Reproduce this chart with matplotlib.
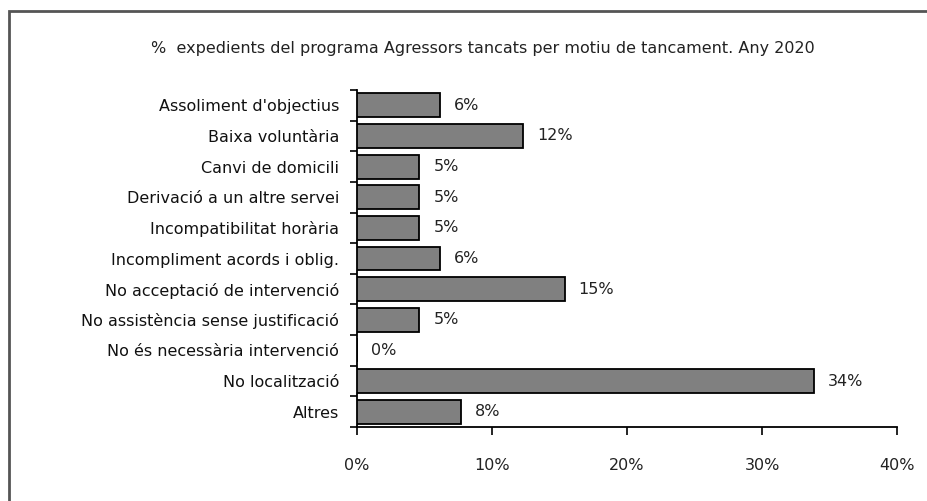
import matplotlib
matplotlib.use("Agg")
import matplotlib.pyplot as plt
from matplotlib.patches import Rectangle
from matplotlib.ticker import FixedLocator, FuncFormatter
from matplotlib import transforms

plt.rcParams['font.family'] = ['DejaVu Sans']

title = "%  expedients del programa Agressors tancats per motiu de tancament. Any 2020"
categories = [
    "Assoliment d'objectius",
    "Baixa voluntària",
    "Canvi de domicili",
    "Derivació a un altre servei",
    "Incompatibilitat horària",
    "Incompliment acords i oblig.",
    "No acceptació de intervenció",
    "No assistència sense justificació",
    "No és necessària intervenció",
    "No localització",
    "Altres",
]
values = [6.15, 12.31, 4.62, 4.62, 4.62, 6.15, 15.38, 4.62, 0.0, 33.85, 7.69]
xticks = [0, 10, 20, 30, 40]

FS = 11.5
W, H = 928, 501
fig = plt.figure(figsize=(W / 100, H / 100), dpi=100)
ax = fig.add_axes([357 / W, 1 - 427 / H, (897 - 357) / W, (427 - 90) / H])

y = list(range(len(categories)))
ax.barh(y, values, height=0.78, color='#808080', edgecolor='black', linewidth=1.3, zorder=3)

offset = transforms.offset_copy(ax.transData, fig=fig, x=14, y=0, units='dots')
for yi, v in zip(y, values):
    ax.text(v, yi, f"{round(v)}%", transform=offset, ha='left', va='center',
            fontsize=FS, color='#222222')

ax.set_xlim(0, 40)
ax.set_ylim(len(categories) - 0.5, -0.5)
ax.set_yticks(y)
ax.set_yticklabels(categories, fontsize=FS, color='#111111')
ax.yaxis.set_minor_locator(FixedLocator([i - 0.5 for i in range(len(categories) + 1)]))
ax.tick_params(axis='y', which='major', length=0, pad=13)
ax.tick_params(axis='y', which='minor', length=5, width=1.2, direction='out')

ax.set_xticks(xticks)
ax.xaxis.set_major_formatter(FuncFormatter(lambda v, p: f"{int(v)}%"))
ax.tick_params(axis='x', which='major', length=6, width=1.2, direction='out', pad=16,
               labelsize=FS, labelcolor='#222222')

for s in ['top', 'right']:
    ax.spines[s].set_visible(False)
for s in ['left', 'bottom']:
    ax.spines[s].set_linewidth(1.3)

fig.text(483 / W, 1 - 48 / H, title, ha='center', va='center', fontsize=FS, color='#222222')

border = Rectangle((9 / W, -0.2), 1.5, 1.2 - 11 / H, transform=fig.transFigure,
                   fill=False, edgecolor='#555555', linewidth=2, clip_on=False)
fig.patches.append(border)

fig.savefig("out.png", dpi=100)
